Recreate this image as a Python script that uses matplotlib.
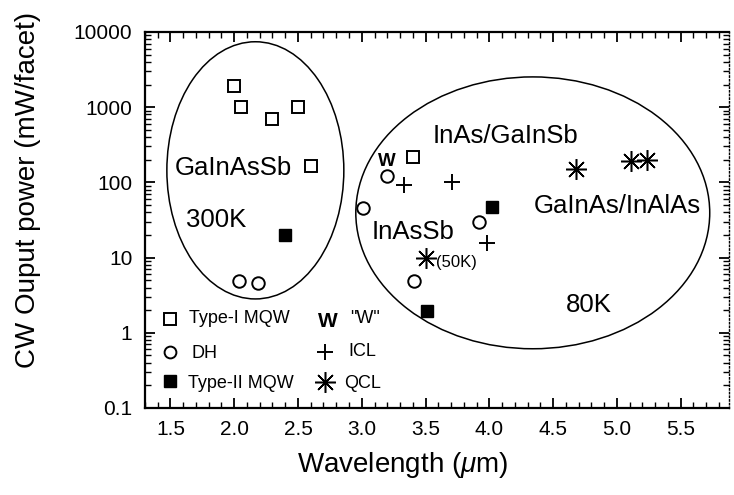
import numpy as np
import matplotlib
matplotlib.use('Agg')
import matplotlib.pyplot as plt
from matplotlib.patches import Ellipse
from matplotlib.ticker import MultipleLocator, FixedLocator, LogLocator, NullFormatter

plt.rcParams['font.family'] = ['Liberation Sans', 'DejaVu Sans']
plt.rcParams['mathtext.fontset'] = 'custom'
plt.rcParams['mathtext.rm'] = 'Liberation Sans'
plt.rcParams['mathtext.it'] = 'Liberation Sans:italic'

# data (wavelength in um, power in mW/facet)
type1_x = [2.0, 2.05, 2.3, 2.5, 2.6, 3.4]
type1_y = [1900, 1000, 700, 1000, 165, 218]
dh_x = [2.04, 2.19, 3.01, 3.2, 3.41, 3.92]
dh_y = [4.9, 4.6, 45, 122, 4.9, 30]
type2_x = [2.4, 3.51, 4.02]
type2_y = [20, 1.95, 47]
icl_x = [3.33, 3.71, 3.98]
icl_y = [92, 100, 15.6]
qcl_x = [3.5, 4.68, 5.11, 5.24]
qcl_y = [10, 151, 192, 199]
w_x = [3.2]
w_y = [187]

xticks = [1.5, 2.0, 2.5, 3.0, 3.5, 4.0, 4.5, 5.0, 5.5]
yticks = [0.1, 1, 10, 100, 1000, 10000]
ytick_labels = ['0.1', '1', '10', '100', '1000', '10000']

fig = plt.figure(figsize=(7.34, 4.95), dpi=100)
ax = fig.add_axes([0.1975, 0.1758, 0.7957, 0.7596])

ms = 8.5
ax.plot(type1_x, type1_y, 's', ms=ms, mfc='white', mec='black', mew=1.4, ls='none')
ax.plot(dh_x, dh_y, 'o', ms=ms + 0.5, mfc='white', mec='black', mew=1.4, ls='none')
ax.plot(type2_x, type2_y, 's', ms=ms, mfc='black', mec='black', ls='none')
ax.plot(icl_x, icl_y, '+', ms=12, mec='black', mew=1.4, ls='none')
ax.plot(qcl_x, qcl_y, marker=(8, 2, 0), ms=15, mec='black', mew=1.1, ls='none')
for x, y in zip(w_x, w_y):
    ax.text(x, y, 'W', fontsize=13.5, fontweight='bold', ha='center', va='center')

ax.set_yscale('log')
ax.set_xlim(1.3, 5.88)
ax.set_ylim(0.1, 10000)

# ellipses grouping the 300K and 80K results
ax.add_patch(Ellipse((0.189, 0.632), 0.303, 0.684, transform=ax.transAxes,
                     fill=False, ec='black', lw=1.1))
ax.add_patch(Ellipse((0.664, 0.519), 0.606, 0.723, transform=ax.transAxes,
                     fill=False, ec='black', lw=1.1))

fs = 18.5
ax.text(1.995, 155, 'GaInAsSb', fontsize=fs, ha='center', va='center')
ax.text(1.861, 31.6, '300K', fontsize=fs, ha='center', va='center')
ax.text(4.124, 414, 'InAs/GaInSb', fontsize=fs, ha='center', va='center')
ax.text(5.004, 48.5, 'GaInAs/InAlAs', fontsize=fs, ha='center', va='center')
ax.text(3.401, 21.9, 'InAsSb', fontsize=fs, ha='center', va='center')
ax.text(3.58, 8.7, '(50K)', fontsize=12, ha='left', va='center')
ax.text(4.784, 2.34, '80K', fontsize=fs, ha='center', va='center')

# hand-made legend
lt = ax.transAxes
lfs = 13
ax.plot([0.0428], [0.237], 's', ms=8, mfc='white', mec='black', mew=1.4, transform=lt)
ax.text(0.0753, 0.239, 'Type-I MQW', fontsize=lfs, va='center', transform=lt)
ax.plot([0.0428], [0.149], 'o', ms=8.5, mfc='white', mec='black', mew=1.4, transform=lt)
ax.text(0.0805, 0.146, 'DH', fontsize=lfs, va='center', transform=lt)
ax.plot([0.0428], [0.072], 's', ms=8, mfc='black', mec='black', transform=lt)
ax.text(0.0736, 0.066, 'Type-II MQW', fontsize=lfs, va='center', transform=lt)
ax.text(0.313, 0.231, 'W', fontsize=15, fontweight='bold', ha='center', va='center', transform=lt)
ax.text(0.351, 0.239, '"W"', fontsize=lfs, va='center', transform=lt)
ax.plot([0.308], [0.149], '+', ms=12, mec='black', mew=1.4, transform=lt)
ax.text(0.348, 0.149, 'ICL', fontsize=lfs, va='center', transform=lt)
ax.plot([0.308], [0.069], marker=(8, 2, 0), ms=15, mec='black', mew=1.1, transform=lt)
ax.text(0.341, 0.066, 'QCL', fontsize=lfs, va='center', transform=lt)

# axes styling
ax.xaxis.set_major_locator(FixedLocator(xticks))
ax.xaxis.set_minor_locator(MultipleLocator(0.1))
ax.set_xticklabels(['%.1f' % t for t in xticks])
ax.yaxis.set_major_locator(FixedLocator(yticks))
ax.yaxis.set_minor_locator(LogLocator(base=10, subs=np.arange(2, 10)))
ax.yaxis.set_minor_formatter(NullFormatter())
ax.set_yticklabels(ytick_labels)

ax.tick_params(which='both', direction='in', top=True, right=True, labelsize=15)
ax.tick_params(which='major', length=7, width=1.3)
ax.tick_params(which='minor', length=4, width=1.0)
ax.tick_params(axis='x', pad=9)
ax.tick_params(axis='y', pad=9)
for side in ['left', 'bottom', 'top']:
    ax.spines[side].set_linewidth(1.6)
ax.spines['right'].set_linestyle(':')
ax.spines['right'].set_linewidth(1.0)

ax.set_xlabel(r'Wavelength ($\mu$m)', fontsize=20)
ax.xaxis.set_label_coords(0.441, -0.152)
ax.xaxis.label.set_va('center')
ax.set_ylabel('CW Ouput power (mW/facet)', fontsize=20)
ax.yaxis.set_label_coords(-0.2003, 0.58)
ax.yaxis.label.set_va('center')

fig.savefig('out.png', dpi=100)
